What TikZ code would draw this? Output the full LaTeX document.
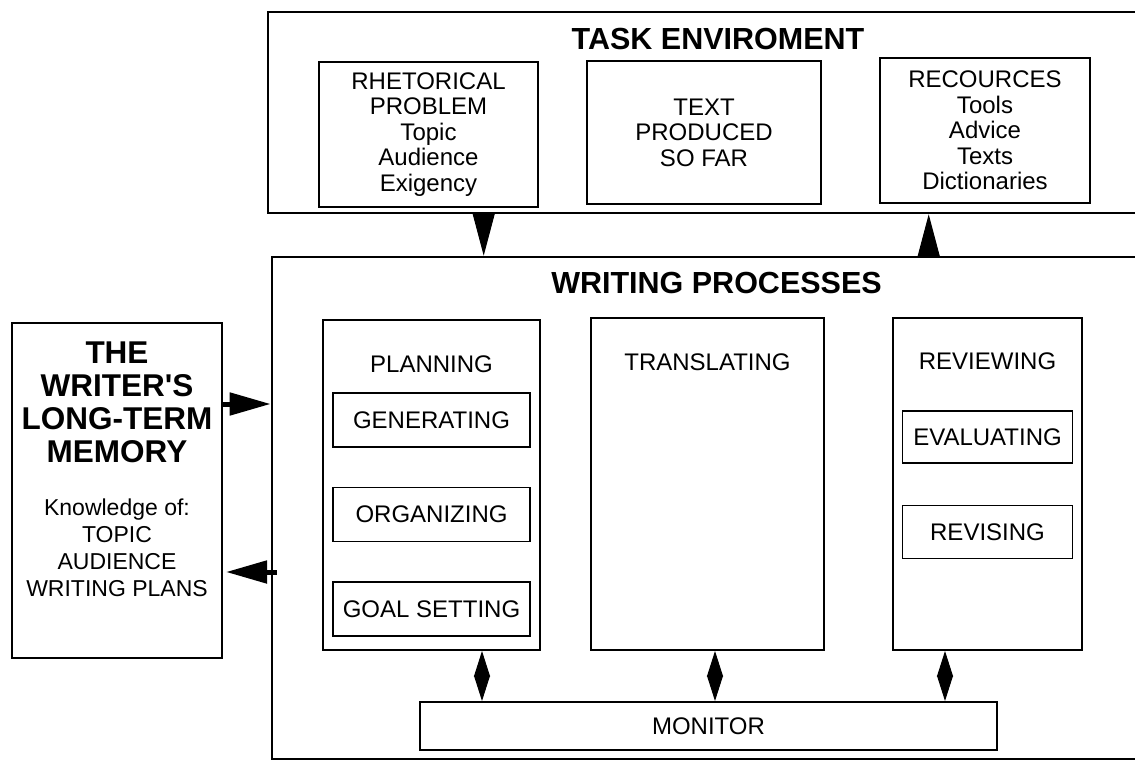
\documentclass[tikz,border=0pt]{standalone}
\usepackage{fontspec}
\setmainfont{Liberation Sans}
\usetikzlibrary{positioning}
\usetikzlibrary{arrows.meta}

\tikzset{
  bigbox/.style={draw, line width=2.6pt, inner sep=0pt},
  procbox/.style={draw, line width=2pt, inner sep=0pt},
  subbox/.style={draw, line width=1.6pt, inner sep=0pt, minimum width=197pt, minimum height=54pt, font=\fontsize{24}{25.5}\selectfont},
  txt/.style={align=center, inner sep=0pt, font=\fontsize{24}{25.5}\selectfont},
  head/.style={align=center, inner sep=0pt, font=\fontsize{30.5}{33}\selectfont\bfseries},
  tall/.style={-{Triangle[length=42pt,width=22pt]}, line width=1pt},
  flow/.style={-{Triangle[length=41pt,width=22pt]}, line width=5pt},
  link/.style={{Triangle[length=25.5pt,width=16pt]}-{Triangle[length=25.5pt,width=16pt]}, line width=1pt}
}

\begin{document}
\begin{tikzpicture}[x=1pt, y=-1pt]

    \useasboundingbox (0,0) rectangle (1135,762);

    %task environment
    \node[bigbox, minimum width=882pt, minimum height=201pt] (task) at (709,112.5) {};
    \node[head] (tasktitle) at (718,39) {TASK ENVIROMENT};
    \node[procbox, txt, minimum width=219pt, minimum height=145pt] (rhet) at (428.5,134.5)
        {RHETORICAL\\PROBLEM\\Topic\\Audience\\Exigency};
    \node[procbox, txt, minimum width=234pt, minimum height=143pt] (sofar) at (704,132.5)
        {TEXT\\PRODUCED\\SO FAR};
    \node[procbox, txt, minimum width=210pt, minimum height=145pt] (res) at (985,130.5)
        {RECOURCES\\Tools\\Advice\\Texts\\Dictionaries};

    %writing processes
    \node[bigbox, minimum width=878pt, minimum height=502pt] (wp) at (711,508) {};
    \node[head] (wptitle) at (716.5,283) {WRITING PROCESSES};

    \node[procbox, minimum width=217pt, minimum height=330pt] (plan) at (431.5,485) {};
    \node[txt] (plantitle) at ([yshift=-45pt]plan.north) {PLANNING};
    \node[subbox, below=73pt of plan.north] (gen) {GENERATING};
    \node[subbox, below=39pt of gen] (org) {ORGANIZING};
    \node[subbox, below=39pt of org] (goal) {GOAL SETTING};

    \node[procbox, minimum width=233pt, minimum height=332pt] (trans) at (707.5,484) {};
    \node[txt] (transtitle) at ([yshift=-45pt]trans.north) {TRANSLATING};

    \node[procbox, minimum width=189pt, minimum height=332pt] (rev) at (987.5,484) {};
    \node[txt] (revtitle) at ([yshift=-44pt]rev.north) {REVIEWING};
    \node[subbox, minimum width=170pt, minimum height=52pt, below=93pt of rev.north] (eval) {EVALUATING};
    \node[subbox, minimum width=170pt, minimum height=53pt, below=41pt of eval] (rvs) {REVISING};

    \node[procbox, txt, minimum width=577pt, minimum height=48pt] (mon) at (708.5,726) {MONITOR};

    %long-term memory
    \node[procbox, minimum width=210pt, minimum height=335pt] (mem) at (117,490.5) {};
    \node[head, font=\fontsize{31.5}{33}\selectfont\bfseries] (memhead) at (117,402.5)
        {THE\\WRITER\textquotesingle S\\LONG-TERM\\MEMORY};
    \node[txt, font=\fontsize{23}{27}\selectfont] (memknow) at (117,548)
        {Knowledge of:\\TOPIC\\AUDIENCE\\WRITING PLANS};

    % edges
    \draw[tall] ([xshift=217pt]task.south west) -- ([xshift=217pt]task.south west |- wp.north);
    \draw[tall] ([xshift=658pt]wp.north west) -- ([xshift=658pt]wp.north west |- task.south);
    \draw[flow] ([yshift=-82pt]mem.north east) -- ([yshift=-82pt]mem.north east -| wp.west);
    \draw[flow] ([yshift=-250pt, xshift=6pt]mem.north east -| wp.west) -- ([yshift=-250pt, xshift=3pt]mem.north east);
    \draw[link] ([xshift=50.5pt]plan.south) -- ([xshift=50.5pt]plan.south |- mon.north);
    \draw[link] ([xshift=7.5pt]trans.south) -- ([xshift=7.5pt]trans.south |- mon.north);
    \draw[link] ([xshift=-42.5pt]rev.south) -- ([xshift=-42.5pt]rev.south |- mon.north);

\end{tikzpicture}
\end{document}
